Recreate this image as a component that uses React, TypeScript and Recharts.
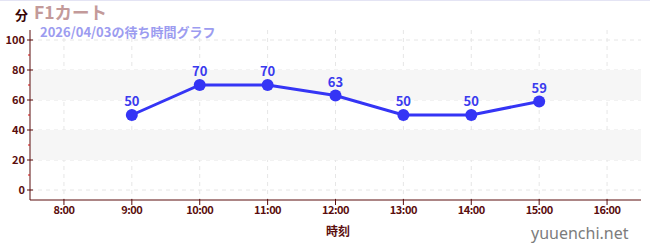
import { LineChart, Line, XAxis, YAxis, CartesianGrid, ReferenceArea, LabelList } from 'recharts';

// waiting time (minutes) by hour of day
const hours = [9, 10, 11, 12, 13, 14, 15];
const waits = [50, 70, 70, 63, 50, 50, 59];
const xTicks = [8, 9, 10, 11, 12, 13, 14, 15, 16];
const yTicks = [0, 10, 20, 30, 40, 50, 60, 70, 80, 90, 100];
const bands = [
  [20, 40],
  [60, 80],
];

const data = hours.map((h, i) => ({ hour: h, wait: waits[i] }));

const AXIS = '#5a0d0d';
const BLUE = '#3535f5';
const FONT = '"Noto Sans CJK JP", "Noto Sans", sans-serif';

function YTick(props: any) {
  const { x, y, payload } = props;
  const major = payload.value % 20 === 0;
  if (!major) {
    return <line x1={x - 2} x2={x} y1={y} y2={y} stroke="#d01010" strokeWidth={1} />;
  }
  return (
    <g>
      <line x1={x - 3} x2={x + 3} y1={y} y2={y} stroke={AXIS} strokeWidth={1} />
      <text x={x - 5} y={y} dy={4} textAnchor="end" fontSize={11} fontWeight="bold" fill={AXIS} fontFamily={FONT}>
        {payload.value}
      </text>
    </g>
  );
}

function XTick(props: any) {
  const { x, y, payload } = props;
  return (
    <g>
      <line x1={x} x2={x} y1={y - 3} y2={y + 3} stroke={AXIS} strokeWidth={1} />
      <text x={x} y={y + 12} textAnchor="middle" fontSize={11} fontWeight="bold" fill={AXIS} fontFamily={FONT} letterSpacing={-0.5}>
        {`${payload.value}:00`}
      </text>
    </g>
  );
}

export default function App() {
  return (
    <div style={{ position: 'absolute', left: 0, top: 0, width: 650, height: 250, background: '#fff', fontFamily: FONT }}>
      <div style={{ position: 'absolute', left: 0, top: 0, width: 650, height: 1, background: '#e4e4f4' }} />
      <LineChart width={650} height={250} data={data} margin={{ top: 30, right: 9, left: 0, bottom: 20 }}>
        {bands.map(([a, b]) => (
          <ReferenceArea key={a} y1={a} y2={b} fill="#f6f6f6" fillOpacity={1} stroke="none" ifOverflow="hidden" />
        ))}
        <CartesianGrid stroke="#e6e6e6" strokeDasharray="4 4" horizontalValues={[0, 20, 40, 60, 80, 100]} verticalValues={xTicks} />
        <XAxis
          dataKey="hour"
          type="number"
          domain={[7.5, 16.5]}
          ticks={xTicks}
          height={30}
          stroke={AXIS}
          tickLine={false}
          tickSize={0}
          tick={<XTick />}
          interval={0}
        />
        <YAxis
          type="number"
          domain={[-20 / 3, 320 / 3]}
          ticks={yTicks}
          width={30}
          stroke={AXIS}
          tickLine={false}
          tickSize={0}
          tickMargin={0}
          tick={<YTick />}
          interval={0}
          allowDataOverflow
        />
        <Line
          dataKey="wait"
          stroke={BLUE}
          strokeWidth={3}
          dot={{ r: 6, fill: BLUE, stroke: BLUE, strokeWidth: 0 }}
          activeDot={false}
          isAnimationActive={false}
        >
          <LabelList dataKey="wait" position="top" offset={9} fill="#3a3aee" fontSize={13} fontWeight="bold" fontFamily={FONT} />
        </Line>
      </LineChart>
      <div style={{ position: 'absolute', left: 15, top: 7, fontSize: 13, fontWeight: 'bold', color: '#3a0505', lineHeight: '16px' }}>分</div>
      <div style={{ position: 'absolute', left: 34, top: 2, fontSize: 17.5, fontWeight: 'bold', color: '#c39a9a', lineHeight: '20px' }}>F1カート</div>
      <div style={{ position: 'absolute', left: 40, top: 25, fontSize: 13, fontWeight: 'bold', color: '#9c9cf0', lineHeight: '14px' }}>2026/04/03の待ち時間グラフ</div>
      <div style={{ position: 'absolute', left: 326, top: 222, fontSize: 12, fontWeight: 'bold', color: AXIS, lineHeight: '17px' }}>時刻</div>
      <div style={{ position: 'absolute', left: 531, top: 222, fontSize: 16, color: '#7c7c7c', lineHeight: '22px', fontFamily: '"Noto Sans", sans-serif' }}>yuuenchi.net</div>
    </div>
  );
}
